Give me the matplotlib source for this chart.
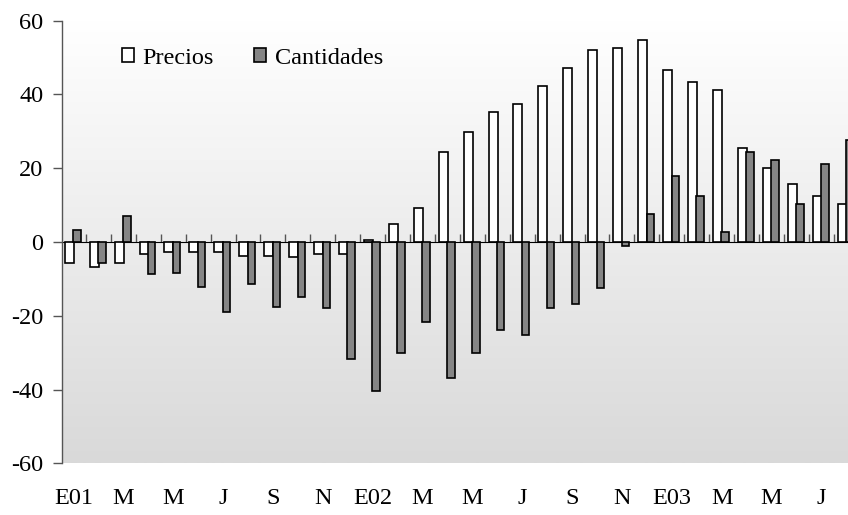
import numpy as np
import matplotlib
matplotlib.use('Agg')
from matplotlib import pyplot as plt
from matplotlib.patches import Patch
from matplotlib.colors import LinearSegmentedColormap

# variacion interanual (%), enero 2001 - agosto 2003
meses = ['E01', '', 'M', '', 'M', '', 'J', '', 'S', '', 'N', '',
         'E02', '', 'M', '', 'M', '', 'J', '', 'S', '', 'N', '',
         'E03', '', 'M', '', 'M', '', 'J', '']
precios = [-5.6, -6.7, -5.6, -3.2, -2.7, -2.7, -2.7, -3.8, -3.8, -4.0, -3.3, -3.3,
           0.5, 4.9, 9.1, 24.4, 29.8, 35.2, 37.3, 42.2, 47.2, 52.0, 52.5, 54.7,
           46.6, 43.5, 41.3, 25.5, 20.1, 15.7, 12.5, 10.3]
cantidades = [3.2, -5.6, 7.0, -8.8, -8.3, -12.1, -19.1, -11.5, -17.5, -14.8, -18.0, -31.6,
              -40.4, -30.0, -21.8, -37.0, -30.0, -23.9, -25.1, -18.0, -16.9, -12.6, -1.2, 7.5,
              17.9, 12.5, 2.7, 24.4, 22.2, 10.3, 21.1, 27.6]
yticks = [-60, -40, -20, 0, 20, 40, 60]

plt.rcParams['font.family'] = ['Liberation Serif', 'DejaVu Serif']
plt.rcParams['font.size'] = 17.5

fig = plt.figure(figsize=(8.48, 5.15), dpi=100)
ax = fig.add_axes([62/848, 1-463.3/515, 786/848, (463.3-20.7)/515])

x = np.arange(len(precios))
xmin, xmax = -0.46, 31.07

# fondo degradado
cmap = LinearSegmentedColormap.from_list('fondo', ['#ffffff', '#d9d9d9'])
ax.imshow(np.linspace(0, 1, 256).reshape(-1, 1), extent=[xmin, xmax, -60, 60],
          aspect='auto', cmap=cmap, origin='upper', zorder=0)

ax.bar(x-0.35, precios, width=0.36, align='edge', color='white',
       edgecolor='black', linewidth=1.2, zorder=2)
ax.bar(x-0.01, cantidades, width=0.3, align='edge', color='#858585',
       edgecolor='black', linewidth=1.2, zorder=3)

ax.set_xlim(xmin, xmax)
ax.set_ylim(-60, 60)

ax.set_yticks(yticks)
ax.set_yticklabels([str(v) for v in yticks])
ax.tick_params(axis='y', direction='out', length=6.5, width=1, color='#555555', pad=7)

ax.set_xticks(x)
ax.set_xticklabels(meses)
ax.tick_params(axis='x', length=0, pad=18)

for s in ['top', 'right', 'bottom']:
    ax.spines[s].set_visible(False)
ax.spines['left'].set_color('#555555')
ax.spines['left'].set_linewidth(1)

# eje en cero con marcas entre meses
eje = ax.secondary_xaxis(0.5)
eje.set_xticks(x[:-1]+0.5)
eje.set_xticklabels([])
eje.tick_params(direction='out', length=5.5, width=1, color='#555555')
eje.spines['bottom'].set_color('black')
eje.spines['bottom'].set_linewidth(1.3)
eje.spines['bottom'].set_zorder(4)

handles = [Patch(facecolor='white', edgecolor='black', linewidth=1.2, label='Precios'),
           Patch(facecolor='#858585', edgecolor='black', linewidth=1.2, label='Cantidades')]
fig.legend(handles=handles, loc='center left', bbox_to_anchor=(122/848, 1-58/515),
           ncol=2, frameon=False, handlelength=0.5, handleheight=0.5,
           handletextpad=0.35, columnspacing=1.65, borderpad=0, borderaxespad=0)

fig.savefig('out.png', dpi=100)
